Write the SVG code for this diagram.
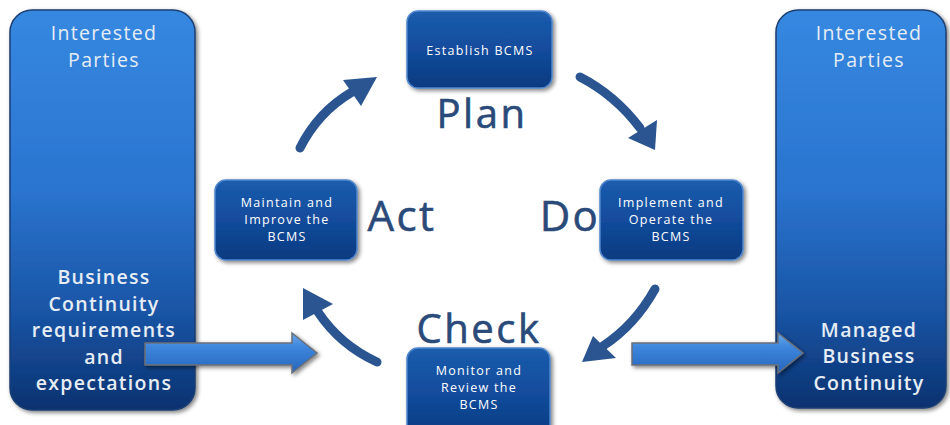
<svg xmlns="http://www.w3.org/2000/svg" width="950" height="425" viewBox="0 0 950 425">
<defs>
<linearGradient id="panelGrad" x1="0" y1="0" x2="0" y2="1">
<stop offset="0" stop-color="#3588e0"/>
<stop offset="0.45" stop-color="#2a74cf"/>
<stop offset="0.75" stop-color="#1a55a6"/>
<stop offset="1" stop-color="#0a3270"/>
</linearGradient>
<linearGradient id="boxGrad" x1="0" y1="0" x2="0" y2="1">
<stop offset="0" stop-color="#1c5cad"/>
<stop offset="0.5" stop-color="#124c9c"/>
<stop offset="1" stop-color="#0a3a80"/>
</linearGradient>
<linearGradient id="blockGrad" x1="0" y1="0" x2="0" y2="1">
<stop offset="0" stop-color="#6aa8ee"/>
<stop offset="0.35" stop-color="#3d86dc"/>
<stop offset="1" stop-color="#2566bd"/>
</linearGradient>
<filter id="shadow" x="-10%" y="-10%" width="130%" height="130%">
<feGaussianBlur in="SourceAlpha" stdDeviation="2"/>
<feOffset dx="2" dy="2"/>
<feComponentTransfer><feFuncA type="linear" slope="0.5"/></feComponentTransfer>
<feMerge><feMergeNode/><feMergeNode in="SourceGraphic"/></feMerge>
</filter>
</defs>
<style>
.panel{fill:url(#panelGrad);stroke:#1b3f72;stroke-width:1.5}
.box{fill:url(#boxGrad);stroke:#4f86cc;stroke-width:1.5}
.ptext{font-family:"Open Sans","Noto Sans",sans-serif;font-size:19.5px;letter-spacing:1.3px;fill:#e6edf5;text-anchor:middle}
.pbold{font-weight:600}
.btext{font-family:"Open Sans","Noto Sans",sans-serif;font-size:12.5px;letter-spacing:1.3px;fill:#ffffff;text-anchor:middle}
.phase{font-family:"Open Sans","Noto Sans",sans-serif;font-size:40px;letter-spacing:2.5px;fill:#2a4a79;stroke:#2a4a79;stroke-width:0.6;text-anchor:middle}
.curve{fill:none;stroke:#2b5590;stroke-width:9;stroke-linecap:round}
.head{fill:#2b5590}
.block{fill:url(#blockGrad);stroke:#6b6f78;stroke-width:1.5}
</style>
<rect width="950" height="425" fill="#ffffff"/>
<g id="left-panel">
<rect class="panel" x="10" y="10" width="185" height="400" rx="22" filter="url(#shadow)"/>
<text class="ptext" x="104" y="40">Interested</text>
<text class="ptext" x="104" y="67">Parties</text>
<text class="ptext pbold" x="104" y="284">Business</text>
<text class="ptext pbold" x="104" y="311">Continuity</text>
<text class="ptext pbold" x="104" y="337">requirements</text>
<text class="ptext pbold" x="104" y="364">and</text>
<text class="ptext pbold" x="104" y="390">expectations</text>
</g>
<g id="right-panel">
<rect class="panel" x="776" y="10" width="170" height="398" rx="22" filter="url(#shadow)"/>
<text class="ptext" x="869" y="40">Interested</text>
<text class="ptext" x="869" y="67">Parties</text>
<text class="ptext pbold" x="869" y="337">Managed</text>
<text class="ptext pbold" x="869" y="363">Business</text>
<text class="ptext pbold" x="869" y="390">Continuity</text>
</g>
<g id="plan">
<rect class="box" x="407" y="11" width="145" height="77" rx="11" filter="url(#shadow)"/>
<text class="btext" x="480" y="55">Establish BCMS</text>
<text class="phase" x="482" y="128">Plan</text>
</g>
<g id="do">
<rect class="box" x="600" y="180" width="143" height="80" rx="11" filter="url(#shadow)"/>
<text class="btext" x="671" y="207">Implement and</text>
<text class="btext" x="671" y="224">Operate the</text>
<text class="btext" x="671" y="241">BCMS</text>
<text class="phase" x="570" y="231" style="font-size:42px">Do</text>
</g>
<g id="check">
<rect class="box" x="407" y="348" width="143" height="90" rx="11" filter="url(#shadow)"/>
<text class="btext" x="479" y="375">Monitor and</text>
<text class="btext" x="479" y="392">Review the</text>
<text class="btext" x="479" y="409">BCMS</text>
<text class="phase" x="479" y="343">Check</text>
</g>
<g id="act">
<rect class="box" x="215" y="180" width="142" height="80" rx="11" filter="url(#shadow)"/>
<text class="btext" x="287" y="207">Maintain and</text>
<text class="btext" x="287" y="224">Improve the</text>
<text class="btext" x="287" y="241">BCMS</text>
<text class="phase" x="402" y="231" style="font-size:42px">Act</text>
</g>
<g id="connectors">
<path class="curve" d="M300,148 Q318,112 352,92"/>
<polygon class="head" points="377,77 343,80 361,106"/>
<path class="curve" d="M580,77 Q615,95 640,128"/>
<polygon class="head" points="655,150 628,138 657,120"/>
<path class="curve" d="M655,289 Q635,325 603,346"/>
<polygon class="head" points="582,362 593,336 616,358"/>
<path class="curve" d="M377,362 Q340,345 318,312"/>
<polygon class="head" points="303,288 303,320 333,304"/>
<polygon class="block" points="145,343 292,343 292,333 317,353 292,373 292,365 145,365" filter="url(#shadow)"/>
<polygon class="block" points="632,343 778,343 778,333 803,353 778,373 778,365 632,365" filter="url(#shadow)"/>
</g>
</svg>
